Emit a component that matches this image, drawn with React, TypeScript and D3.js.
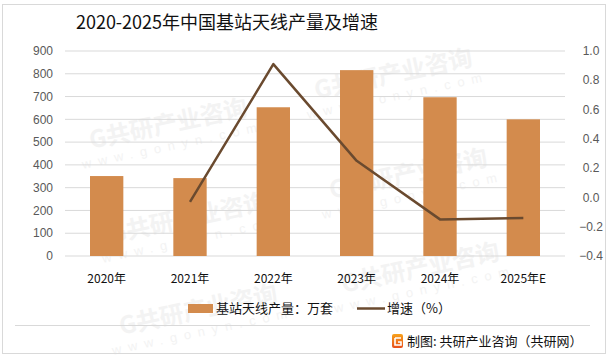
import React from "react";
import * as d3 from "d3";

// data
const years = ["2020年", "2021年", "2022年", "2023年", "2024年", "2025年E"];
const output = [351, 342, 653, 816, 697, 600]; // 基站天线产量：万套
const growth = [null, -0.03, 0.91, 0.25, -0.15, -0.14]; // 增速（%）
const leftTicks = [0, 100, 200, 300, 400, 500, 600, 700, 800, 900];
const rightTicks = [-0.4, -0.2, 0, 0.2, 0.4, 0.6, 0.8, 1.0];

// faint watermark anchors (centre of each stamp), only the ones fully inside
const marks = [
  [170, 132], [190, 226], [200, 318],
  [395, 82], [410, 182], [422, 276],
];

const W = 611;
const H = 358;
const margin = { top: 51, right: 46, bottom: 102, left: 65 };
const cjk = "'Noto Sans CJK SC', 'Noto Sans', sans-serif";
const num = "'Liberation Sans', 'DejaVu Sans', sans-serif";

export default function App() {
  const width = W - margin.left - margin.right;
  const height = H - margin.top - margin.bottom;

  const x = d3.scaleBand().domain(years).range([0, width]).paddingInner(0.6).paddingOuter(0.3);
  const y = d3.scaleLinear().domain([0, 900]).range([height, 0]);
  const y2 = d3.scaleLinear().domain([-0.4, 1.0]).range([height, 0]);

  const pts = years
    .map((yr, i) => ({ yr, v: growth[i] }))
    .filter((d) => d.v !== null) as { yr: string; v: number }[];

  const line = d3
    .line<{ yr: string; v: number }>()
    .x((d) => (x(d.yr) as number) + x.bandwidth() / 2)
    .y((d) => y2(d.v));

  return (
    <svg width={W} height={H} style={{ position: "absolute", left: 0, top: 0 }}>
      <rect x={0} y={0} width={W} height={H} fill="#fff" />

      {/* watermark */}
      <g fill="#f3f3f3">
        {marks.map(([cx, cy], i) => (
          <g key={"wm" + i} transform={`translate(${cx},${cy}) rotate(-12)`}>
            <text x={0} y={0} textAnchor="middle" fontFamily={cjk} fontWeight={700} fontSize={24}>
              G共研产业咨询
            </text>
            <text x={0} y={18} textAnchor="middle" fontFamily={num} fontSize={13} letterSpacing={7}>
              www.gonyn.com
            </text>
          </g>
        ))}
      </g>

      <rect x={2.5} y={4.5} width={603} height={349} fill="none" stroke="#d9d9d9" />

      <text x={227} y={29} textAnchor="middle" fontFamily={cjk} fontSize={18} fill="#111">
        2020-2025年中国基站天线产量及增速
      </text>

      <g transform={`translate(${margin.left},${margin.top})`}>
        {leftTicks.map((t) => (
          <line key={"g" + t} x1={0} x2={width} y1={y(t)} y2={y(t)} stroke="#d9d9d9" strokeWidth={1} />
        ))}
        {leftTicks.map((t) => (
          <text key={"l" + t} x={-12} y={y(t)} dy="0.35em" textAnchor="end" fontFamily={num} fontSize={12} fill="#595959">
            {t}
          </text>
        ))}
        {rightTicks.map((t) => (
          <text key={"r" + t} x={width + 26} y={y2(t)} dy="0.35em" textAnchor="middle" fontFamily={num} fontSize={12} fill="#595959">
            {d3.format(".1f")(t)}
          </text>
        ))}

        {years.map((yr, i) => (
          <rect key={yr} x={x(yr)} y={y(output[i])} width={x.bandwidth()} height={height - y(output[i])} fill="#D38B4D" />
        ))}

        <path d={line(pts) || ""} fill="none" stroke="#6A4A2F" strokeWidth={2.5} strokeLinejoin="round" />

        {years.map((yr) => (
          <text key={"x" + yr} x={(x(yr) as number) + x.bandwidth() / 2} y={height + 27} textAnchor="middle" fontFamily={cjk} fontSize={12} fill="#111">
            {yr}
          </text>
        ))}
      </g>

      {/* legend */}
      <rect x={188} y={304} width={25} height={9} fill="#D38B4D" />
      <text x={216} y={313} fontFamily={cjk} fontSize={13} fill="#111">基站天线产量：万套</text>
      <line x1={357} x2={385} y1={308.5} y2={308.5} stroke="#6A4A2F" strokeWidth={2.5} />
      <text x={387} y={313} fontFamily={cjk} fontSize={13} fill="#111">增速（%）</text>

      <line x1={15} x2={590} y1={325.5} y2={325.5} stroke="#d9d9d9" />

      {/* footer */}
      <defs>
        <linearGradient id="logo" x1="0" y1="0" x2="0" y2="1">
          <stop offset="0" stopColor="#F7A21B" />
          <stop offset="1" stopColor="#E84E1B" />
        </linearGradient>
      </defs>
      <rect x={392} y={334} width={11} height={14} rx={2} fill="url(#logo)" />
      <path d="M395,338 h6 M395,338 v7 h6 v-3 h-3" fill="none" stroke="#fff" strokeWidth={1.6} />
      <text x={407} y={346} fontFamily={cjk} fontSize={13} fill="#111">制图: 共研产业咨询（共研网）</text>
    </svg>
  );
}
